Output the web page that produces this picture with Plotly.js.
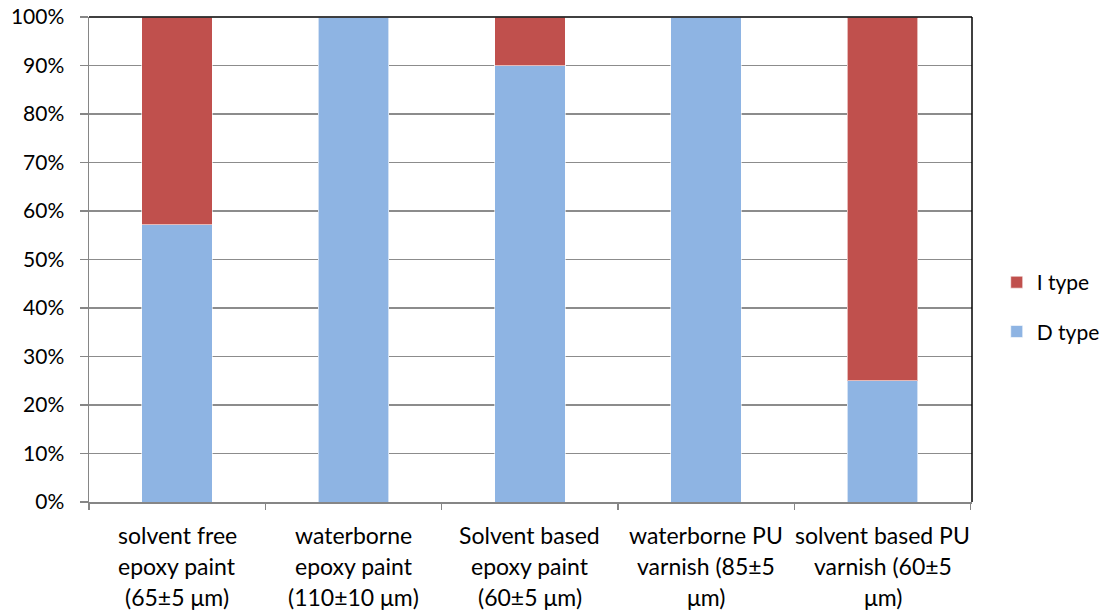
<!DOCTYPE html>
<html>
<head>
<meta charset="utf-8">
<script src="https://cdn.plot.ly/plotly-3.0.1.min.js"></script>
<style>html,body{margin:0;padding:0;background:#fff;}#chart{width:1102px;height:613px;}</style>
</head>
<body>
<div id="chart"></div>
<script>
var categories = ["solvent free epoxy paint (65±5 μm)", "waterborne epoxy paint (110±10 μm)", "Solvent based epoxy paint (60±5 μm)", "waterborne PU varnish (85±5 μm)", "solvent based PU varnish (60±5 μm)"];
var labelLines = [
  ["solvent free", "epoxy paint", "(65±5 μm)"],
  ["waterborne", "epoxy paint", "(110±10 μm)"],
  ["Solvent based", "epoxy paint", "(60±5 μm)"],
  ["waterborne PU", "varnish (85±5", "μm)"],
  ["solvent based PU", "varnish (60±5", "μm)"]
];
var dType = [0.572, 1.0, 0.90, 1.0, 0.25];
var iType = [0.428, 0.0, 0.10, 0.0, 0.75];

var FONT = "Lato, 'Open Sans', sans-serif";

var traces = [
  {type: "bar", name: "D type", x: categories, y: dType, legendgroup: "D", legendrank: 2,
   marker: {color: "#8EB4E3", line: {color: "rgba(255,255,255,0.6)", width: 1}}, hoverinfo: "skip"},
  {type: "bar", name: "I type", x: categories, y: iType, legendgroup: "I", legendrank: 1,
   marker: {color: "#C0504D", line: {color: "rgba(255,255,255,0.6)", width: 1}}, hoverinfo: "skip"}
];

var annotations = [];
categories.forEach(function (c, i) {
  labelLines[i].forEach(function (t, j) {
    annotations.push({
      x: c, xref: "x", y: 0, yref: "paper", yanchor: "middle", xanchor: "center",
      yshift: -(33 + j * 31), text: t, showarrow: false,
      font: {family: FONT, size: 23, color: "#000"}
    });
  });
});

var layout = {
  width: 1102, height: 613,
  margin: {l: 89, r: 130, t: 17, b: 111, autoexpand: false},
  paper_bgcolor: "#fff", plot_bgcolor: "#fff",
  barmode: "stack", bargap: 0.6,
  font: {family: FONT, size: 21, color: "#000"},
  xaxis: {
    type: "category", showticklabels: false, tickson: "boundaries",
    ticks: "outside", ticklen: 6, tickcolor: "#868686", tickwidth: 1.5,
    showline: true, linecolor: "#868686", linewidth: 1.5, showgrid: false, zeroline: false,
    fixedrange: true
  },
  yaxis: {
    range: [0, 1], dtick: 0.1, tickformat: ".0%",
    ticks: "outside", ticklen: 8, tickcolor: "#868686", tickwidth: 1.5,
    showline: true, linecolor: "#868686", linewidth: 1.5,
    showgrid: true, gridcolor: "#8c8c8c", gridwidth: 1.5, zeroline: false,
    tickfont: {family: FONT, size: 21, color: "#000"}, ticklabelstandoff: 11
  },
  legend: {
    x: 1.028, xanchor: "left", y: 0.402, yanchor: "middle",
    traceorder: "grouped", tracegroupgap: 19,
    font: {family: FONT, size: 21, color: "#000"}, bgcolor: "rgba(0,0,0,0)"
  },
  shapes: [
    {type: "line", xref: "paper", yref: "paper", x0: 0, x1: 1, y0: 1, y1: 1, line: {color: "#000", width: 1.5}},
    {type: "line", xref: "paper", yref: "paper", x0: 1, x1: 1, y0: 0, y1: 1, line: {color: "#000", width: 1.5}}
  ],
  annotations: annotations
};

Plotly.newPlot("chart", traces, layout, {displayModeBar: false, staticPlot: true});
</script>
</body>
</html>
